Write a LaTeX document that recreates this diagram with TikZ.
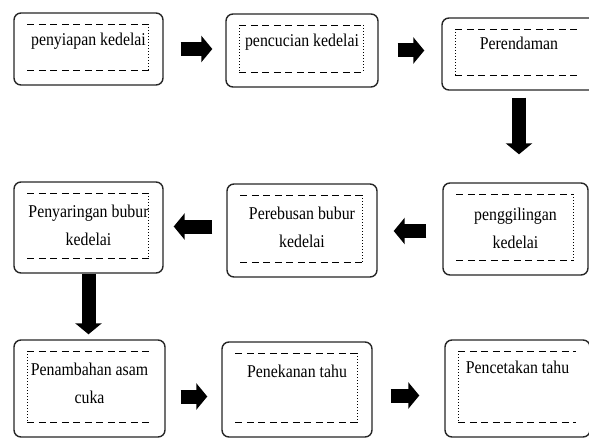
\documentclass[tikz,border=0pt]{standalone}
\usepackage{fontspec}
\setmainfont{Liberation Serif}[FakeStretch=0.88]
\usetikzlibrary{calc}
\usetikzlibrary{arrows.meta}
\tikzstyle{stepbox} = [rectangle, rounded corners=7pt, 
draw=black!85, 
line width=1.4pt, 
fill=white]
\tikzstyle{steptext} = [align=center, inner sep=0pt, 
font=\fontsize{18}{28}\selectfont]
\tikzstyle{innerdash} = [line width=0.9pt, dash pattern=on 7pt off 4.5pt]
\tikzstyle{innerdot} = [line width=1pt, dotted]
\tikzstyle{blockarrow} = [line width=14pt, -{Triangle[length=11pt, width=26pt]}]

\begin{document}
\begin{tikzpicture}[x=1pt, y=-1pt]
    \useasboundingbox (0,0) rectangle (589,444);

    % the process steps
    \node (siap) [stepbox, minimum width=149pt, minimum height=72pt] at (88.5,49) {};
    \node (cuci) [stepbox, minimum width=152pt, minimum height=73pt] at (302,50.5) {};
    \node (rendam) [stepbox, minimum width=154pt, minimum height=72pt] at (519,54) {};

    \node (saring) [stepbox, minimum width=149pt, minimum height=91pt] at (88.5,227.5) {};
    \node (rebus) [stepbox, minimum width=150pt, minimum height=93pt] at (302,230.5) {};
    \node (giling) [stepbox, minimum width=145pt, minimum height=92pt] at (515.5,229) {};

    \node (asam) [stepbox, minimum width=151pt, minimum height=97pt] at (89.5,388.5) {};
    \node (tekan) [stepbox, minimum width=150pt, minimum height=95pt] at (297,389.5) {};
    \node (cetak) [stepbox, minimum width=145pt, minimum height=97pt] at (517.5,388.5) {};

    % the inner frames
    \foreach \s in {siap,cuci,rendam,saring,rebus,giling,asam,tekan,cetak} {
        \draw [innerdash] ($(\s.north west)+(14,12)$) -- ($(\s.north east)+(-15,12)$);
        \draw [innerdash] ($(\s.south west)+(14,-15)$) -- ($(\s.south east)+(-15,-15)$);
    }
    \foreach \s in {cuci,rendam,asam,cetak}
        \draw [innerdot] ($(\s.north west)+(14,12)$) -- ($(\s.south west)+(14,-15)$);
    \foreach \s in {siap,cuci,saring,rebus,giling,tekan}
        \draw [innerdot] ($(\s.north east)+(-15,12)$) -- ($(\s.south east)+(-15,-15)$);

    % the labels
    \node (siapT) [steptext] at ($(siap.north)+(0,29)$) {penyiapan kedelai};
    \node (cuciT) [steptext] at ($(cuci.north)+(0,29)$) {pencucian kedelai};
    \node (rendamT) [steptext] at ($(rendam.north)+(0,26)$) {Perendaman};
    \node (saringT) [steptext] at ($(saring.center)+(0,-2)$) {Penyaringan bubur\\kedelai};
    \node (rebusT) [steptext] at ($(rebus.center)+(0,-3)$) {Perebusan bubur\\kedelai};
    \node (gilingT) [steptext] at ($(giling.center)+(0,-1)$) {penggilingan\\kedelai};
    \node (asamT) [steptext] at ($(asam.center)+(0,-5)$) {Penambahan asam\\cuka};
    \node (tekanT) [steptext] at ($(tekan.north)+(0,30)$) {Penekanan tahu};
    \node (cetakT) [steptext] at ($(cetak.north)+(0,28)$) {Pencetakan tahu};

    % the connectors
    \draw [blockarrow, shorten <=17pt, shorten >=13pt] (siap.east) -- (siap.east -| cuci.west);
    \draw [blockarrow, shorten <=19pt, shorten >=17pt] (cuci.east) -- (cuci.east -| rendam.west);
    \draw [blockarrow, shorten <=7pt, shorten >=28pt] (rendam.south) -- (rendam.south |- giling.north);
    \draw [blockarrow, shorten <=16pt, shorten >=16pt] ([yshift=-2pt]giling.west) -- ([yshift=-2pt]giling.west -| rebus.east);
    \draw [blockarrow, shorten <=14pt, shorten >=10pt] ([yshift=4pt]rebus.west) -- ([yshift=4pt]rebus.west -| saring.east);
    \draw [blockarrow, shorten <=0pt, shorten >=5pt] (saring.south) -- (saring.south |- asam.north);
    \draw [blockarrow, shorten <=15pt, shorten >=14pt] ([yshift=-8pt]asam.east) -- ([yshift=-8pt]asam.east -| tekan.west);
    \draw [blockarrow, shorten <=18pt, shorten >=25pt] ([yshift=-6pt]tekan.east) -- ([yshift=-6pt]tekan.east -| cetak.west);

\end{tikzpicture}
\end{document}
